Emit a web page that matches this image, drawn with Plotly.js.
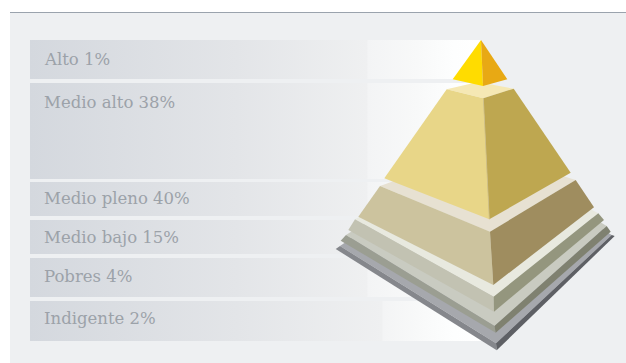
<!DOCTYPE html>
<html lang="es">
<head>
<meta charset="utf-8">
<title>Pirámide social</title>
<script src="https://cdn.plot.ly/plotly-3.0.1.min.js"></script>
<style>html,body{margin:0;padding:0;background:#fff}#chart{width:626px;height:363px}</style>
</head>
<body>
<div id="chart"></div>
<script>
// Social classes and their share of the population
const categories = ['Alto', 'Medio alto', 'Medio pleno', 'Medio bajo', 'Pobres', 'Indigente'];
const shares = [1, 38, 40, 15, 4, 2];

// Vertical extent of each class band and the centre line of its label
const bandTop = [40, 83, 182, 220, 258, 301];
const bandBottom = [79, 179, 216, 254, 297, 341];
const labelY = [59.5, 102, 198, 237.5, 276, 318.5];
// Where the brighter part of each band begins
const bandStep = [367, 367, 367, 367, 367, 382];

// Pyramid faces, drawn from the base upwards
const faceColors = [
  '#a6a8ad', '#85878c', '#5e6065',
  '#c9cbc1', '#9b9e92', '#7f8170',
  '#e8e9df', '#c2c2b2', '#94967e',
  '#e7e1d2', '#ccc39e', '#9f8d5f',
  '#f5e8b4', '#e8d688', '#bea750', '#cfc088',
  '#ffdc00', '#e8a914'
];
const faceX = [
  [340, 496, 611.7, 480], [335.7, 496.7, 496, 340], [496, 611.7, 614.7, 496.7],
  [346, 494.5, 606.7, 480], [340.7, 495.7, 494.5, 346], [494.5, 606.7, 610.7, 495.7],
  [355, 493.7, 598.3, 480], [348.3, 494, 493.7, 355], [493.7, 598.3, 604, 494],
  [380, 490, 575.7, 480], [358.3, 493.3, 490, 380], [490, 575.7, 594, 493.3],
  [446.7, 483.3, 513.7, 478], [384.3, 489.3, 483.3, 446.7], [483.3, 513.7, 570.7, 489.3], [483, 483.8, 489.7, 488.9],
  [481, 452.7, 483], [481, 483, 507.3]
];
const faceY = [
  [246, 343.3, 235, 150], [249, 350.3, 343.3, 246], [343.3, 235, 236, 350.3],
  [235, 326, 226, 150], [240.7, 332.7, 326, 235], [326, 226, 231.7, 332.7],
  [219.3, 296.7, 213.3, 150], [230, 311.7, 296.7, 219.3], [296.7, 213.3, 220, 311.7],
  [186, 231.7, 180, 150], [216.7, 285, 231.7, 186], [231.7, 180, 207.3, 285],
  [89.3, 98.3, 88.7, 82], [178.3, 219.3, 98.3, 89.3], [98.3, 88.7, 172.7, 219.3], [98.3, 98.3, 219.3, 219.3],
  [40, 79.3, 86], [40, 86, 79.3]
];

const BAND_START = 30;
const BAND_END = 481;
const traces = [];

categories.forEach((name, i) => {
  const t = (bandStep[i] - BAND_START) / (BAND_END - BAND_START);
  traces.push({
    type: 'scatter', mode: 'lines', hoverinfo: 'skip', showlegend: false,
    x: [BAND_START, BAND_END, BAND_END, BAND_START, BAND_START],
    y: [bandTop[i], bandTop[i], bandBottom[i], bandBottom[i], bandTop[i]],
    fill: 'toself', line: {width: 0},
    fillgradient: {
      type: 'horizontal',
      colorscale: [[0, '#d4d8de'], [0.46, '#e3e5e8'], [t, '#eff0f1'], [t + 0.002, '#f3f4f5'], [0.86, '#f8f9f9'], [0.94, '#fdfefe'], [1, '#ffffff']]
    }
  });
});

faceX.forEach((xs, i) => {
  traces.push({
    type: 'scatter', mode: 'lines', hoverinfo: 'skip', showlegend: false,
    x: xs.concat(xs[0]), y: faceY[i].concat(faceY[i][0]),
    fill: 'toself', fillcolor: faceColors[i], line: {width: 0}
  });
});

const annotations = categories.map((name, i) => ({
  x: 42, y: labelY[i], xref: 'x', yref: 'y', xanchor: 'left', yanchor: 'middle',
  text: name + ' ' + shares[i] + '%', showarrow: false,
  font: {family: '"DejaVu Serif", serif', size: 16.5, color: '#9ca2a9'}
}));

const layout = {
  width: 626, height: 363,
  margin: {l: 0, r: 0, t: 0, b: 0},
  paper_bgcolor: '#ffffff', plot_bgcolor: '#ffffff',
  showlegend: false,
  xaxis: {range: [0, 626], visible: false, fixedrange: true},
  yaxis: {range: [363, 0], visible: false, fixedrange: true},
  shapes: [
    {type: 'rect', layer: 'below', x0: 10, x1: 626, y0: 13, y1: 363, fillcolor: '#eef0f2', line: {width: 0}},
    {type: 'line', layer: 'below', x0: 10, x1: 626, y0: 12.5, y1: 12.5, line: {color: '#9aa3ad', width: 1}}
  ],
  annotations
};

Plotly.newPlot('chart', traces, layout, {staticPlot: true, displayModeBar: false});
</script>
</body>
</html>
